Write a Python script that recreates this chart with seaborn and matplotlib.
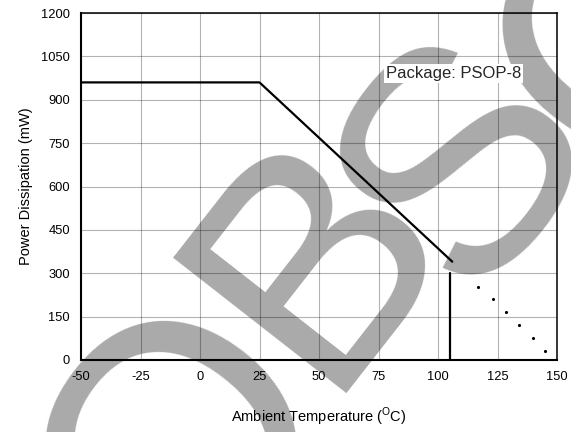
import matplotlib
matplotlib.use("Agg")
import matplotlib.pyplot as plt
import seaborn as sns

# derating curve (ambient temperature in C, power in mW)
curve_temp = [-50, 25, 106]
curve_power = [960, 960, 340]
limit_temp = [105, 105]
limit_power = [0, 300]
dot_temp = [117, 123, 128.5, 134, 140, 145]
dot_power = [253, 210, 166, 121, 77, 32]

x_ticks = [-50, -25, 0, 25, 50, 75, 100, 125, 150]
y_ticks = [0, 150, 300, 450, 600, 750, 900, 1050, 1200]

W, H = 571, 432

sns.set_theme(style="white")
plt.rcParams["font.family"] = ["Liberation Sans", "DejaVu Sans"]
plt.rcParams["mathtext.fontset"] = "custom"
plt.rcParams["mathtext.rm"] = "Liberation Sans"
plt.rcParams["axes.unicode_minus"] = False

fig, ax = plt.subplots(figsize=(W / 100, H / 100), dpi=100)
fig.subplots_adjust(left=81 / W, right=557 / W, top=1 - 13 / H, bottom=1 - 360 / H)
ax.patch.set_alpha(0)

# "OBSOLETE" watermark letters (only the first four show), drawn below the axes;
# anchors are baseline centres in pixels from the top-left corner
marks = [("O", 260, 507, 250), ("B", 386, 309, 230), ("S", 536, 216, 230), ("O", 717, 86, 250)]
for letter, px, py, size in marks:
    fig.text(px / W, 1 - py / H, letter, fontsize=size, color="#aaaaaa",
             rotation=52, rotation_mode="anchor", ha="center", va="baseline", zorder=-1)

sns.lineplot(x=curve_temp, y=curve_power, estimator=None, sort=False,
             color="black", linewidth=1.6, ax=ax)
sns.lineplot(x=limit_temp, y=limit_power, estimator=None, sort=False,
             color="black", linewidth=1.6, ax=ax)
sns.scatterplot(x=dot_temp, y=dot_power, color="black", s=5, linewidth=0, ax=ax)

ax.set_xlim(-50, 150)
ax.set_ylim(0, 1200)
ax.set_xticks(x_ticks)
ax.set_yticks(y_ticks)
ax.grid(True, color="black", alpha=0.3, linewidth=0.8)
ax.tick_params(length=0, labelsize=9.3, pad=8, colors="black")
for side, sp in ax.spines.items():
    sp.set_color("black")
    sp.set_linewidth(1.5 if side in ("left", "bottom") else 1.1)

ax.text(78, 992, "Package: PSOP-8", ha="left", va="center", fontsize=12,
        bbox=dict(facecolor="white", edgecolor="none", pad=1.5))

ax.set_xlabel(r"Ambient Temperature ($^{\rm O}$C)", fontsize=10.5, labelpad=16, color="black")
ax.set_ylabel("Power Dissipation (mW)", fontsize=10.5, labelpad=6, color="black")

fig.savefig("out.png", dpi=100)
